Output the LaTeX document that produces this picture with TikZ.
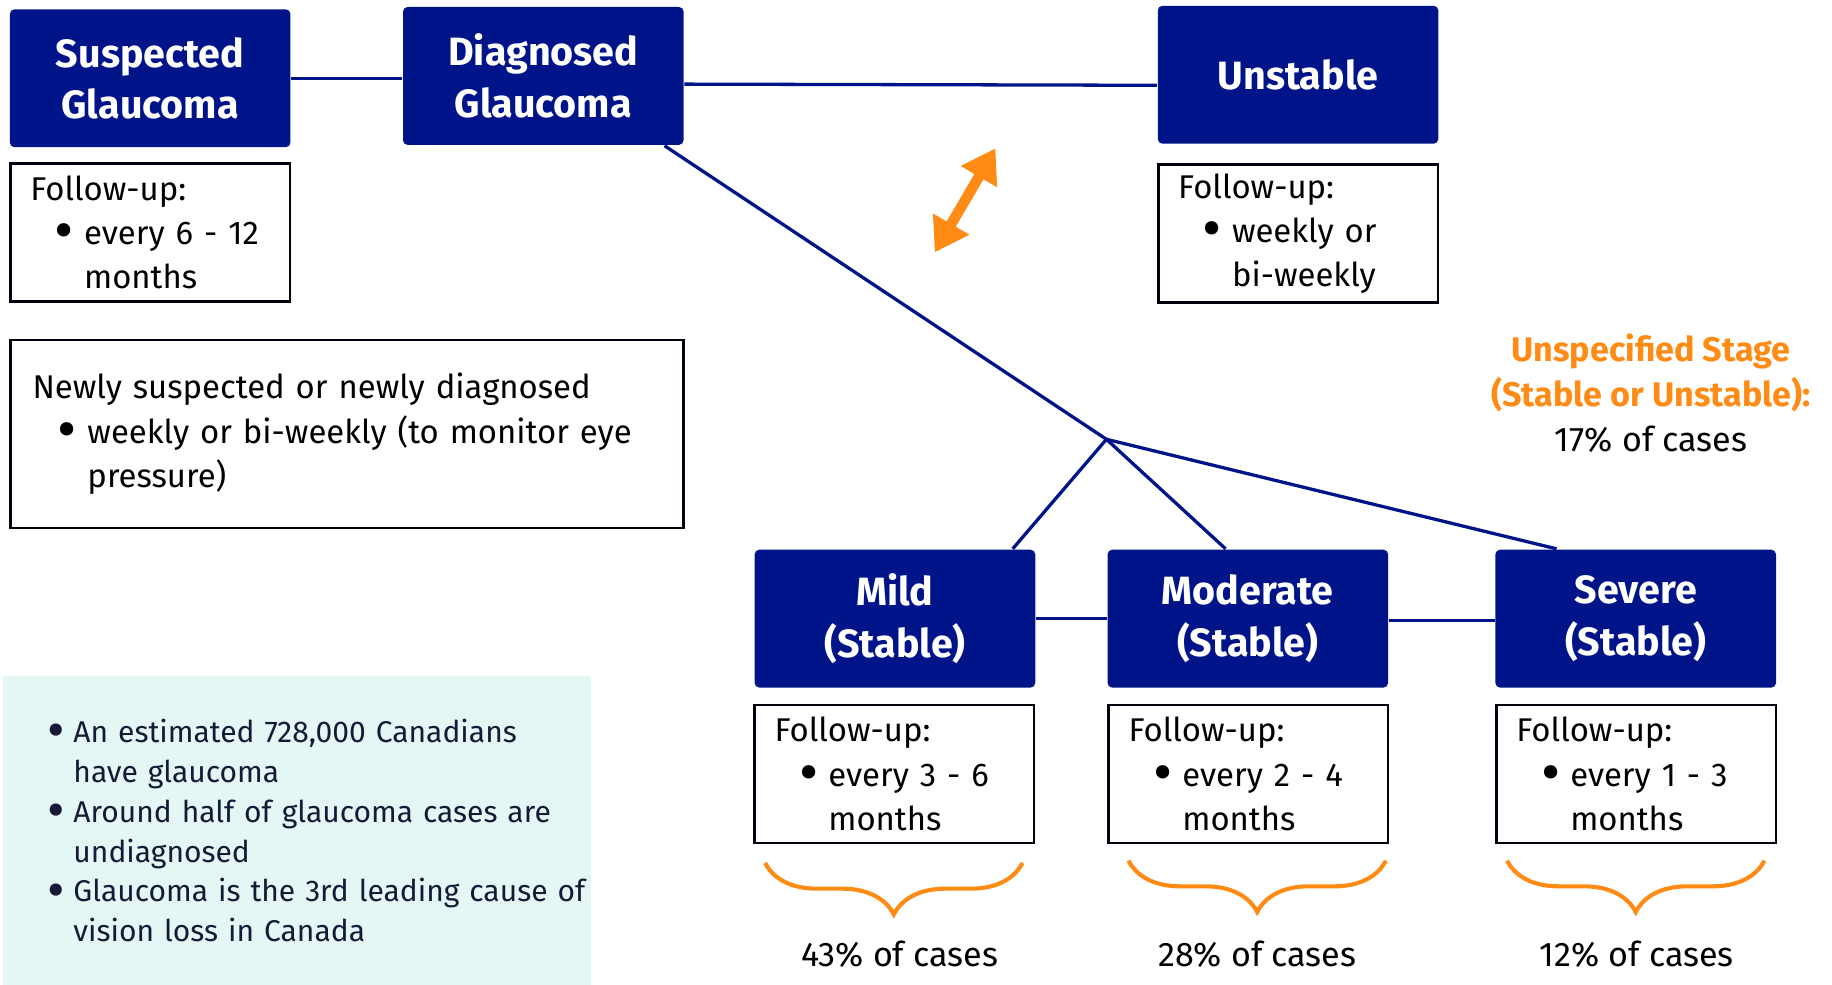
\documentclass[tikz,border=0pt]{standalone}
\usepackage{fontspec}
\setmainfont{Fira Sans}
\usetikzlibrary{calc,arrows.meta,decorations.pathreplacing}

\definecolor{navy}{HTML}{00148A}
\definecolor{tangerine}{HTML}{FF8A14}
\definecolor{mint}{HTML}{E5F7F4}
\definecolor{ink}{HTML}{161A36}

\newcommand{\bigdot}{\raisebox{-1.5pt}{\scalebox{1.8}{\textbullet}}}
\newcommand{\dotitem}[2][0.25cm]{\makebox[#1][l]{\bigdot}\mbox{#2}}
\newcommand{\followtext}[2]{Follow-up:\\\hspace*{0.21cm}\dotitem{#1}\\\hspace*{0.46cm}#2}
\newcommand{\hilite}[1]{{\color{tangerine}\bfseries #1}}

\tikzset{
	stage/.style={fill=navy, rounded corners=0.04cm, minimum width=2.4cm, minimum height=1.18cm, inner sep=0pt, text=white, align=center, font=\fontsize{9.6}{12.5}\selectfont\bfseries},
	followup/.style={draw=black!90!navy, line width=0.6pt, minimum width=2.39cm, minimum height=1.18cm, text width=2.05cm, inner xsep=0.17cm, inner ysep=0pt, align=left, font=\fontsize{8}{10.8}\selectfont},
	facts/.style={fill=mint, minimum width=5.03cm, minimum height=2.64cm, text width=5cm, inner xsep=0.015cm, inner ysep=0pt, align=left, text=ink, font=\fontsize{7.3}{9.7}\selectfont},
	link/.style={draw=navy, line width=0.8pt},
	flip/.style={draw=tangerine, line width=0.09cm, {Triangle[width=0.34cm,length=0.28cm]}-{Triangle[width=0.34cm,length=0.28cm]}},
	curly/.style={draw=tangerine, line width=1pt, decorate, decoration={brace, mirror, amplitude=0.44cm}},
	share/.style={font=\fontsize{8.3}{11}\selectfont}
}

\begin{document}
\begin{tikzpicture}[x=0.01cm, y=-0.01cm]
	%%%%% START %%%%%
	\useasboundingbox (0, 0) rectangle (1568, 843);
	
	\node[stage] (susp) at (128.5, 67) {Suspected\\Glaucoma};
	\node[stage] (diag) at (465, 65) {Diagnosed\\Glaucoma};
	\node[stage] (unst) at (1111, 64) {Unstable};
	
	\node[followup] (fususp) at (128.5, 199) {\followtext{every 6 - 12}{months}};
	\node[followup] (fuunst) at (1111, 200) {\followtext{weekly or}{bi-weekly}};
	
	\node[followup, minimum width=5.76cm, text width=5.38cm, inner xsep=0.19cm, minimum height=1.61cm] (newly) at (297, 371.5) {Newly suspected or newly diagnosed\\\hspace*{0.21cm}\dotitem[0.26cm]{weekly or bi-weekly (to monitor eye}\\\hspace*{0.47cm}pressure)};
	
	\node[facts] (facts) at (254.5, 711) {\hspace*{0.365cm}\dotitem[0.22cm]{An estimated 728,000 Canadians}\\\hspace*{0.585cm}have glaucoma\\\hspace*{0.365cm}\dotitem[0.22cm]{Around half of glaucoma cases are}\\\hspace*{0.585cm}undiagnosed\\\hspace*{0.365cm}\dotitem[0.22cm]{Glaucoma is the 3rd leading cause of}\\\hspace*{0.585cm}vision loss in Canada};
	
	\node[stage] (mild) at (766, 529.5) {Mild\\(Stable)};
	\node[stage] (mod) at (1068, 529.5) {Moderate\\(Stable)};
	\node[stage] (sev) at (1400, 529.5) {Severe\\(Stable)};
	
	\node[followup] (fumild) at (765.5, 662.5) {\followtext{every 3 - 6}{months}};
	\node[followup] (fumod) at (1068.5, 662.5) {\followtext{every 2 - 4}{months}};
	\node[followup] (fusev) at (1400.5, 662.5) {\followtext{every 1 - 3}{months}};
	
	\node[share, align=center] (unspec) at (1413, 336.5) {\hilite{Unspecified Stage}\\\hilite{(Stable or Unstable):}\\17\% of cases};
	
	% links
	\coordinate (split) at (947, 376);
	\draw[link] (susp.east) -- (susp.east -| diag.west);
	\draw[link] ([yshift=-0.07cm]diag.east) -- ([yshift=-0.09cm]unst.west);
	\draw[link] ([xshift=-0.17cm]diag.south east) -- (split);
	\draw[link] (split) -- ([xshift=-0.2cm]mild.north east);
	\draw[link] (split) -- ([xshift=-0.19cm]mod.north);
	\draw[link] (split) -- ([xshift=0.53cm]sev.north west);
	\draw[link] (mild.east) -- (mod.west);
	\draw[link] ([yshift=-0.015cm]mod.east) -- ([yshift=-0.015cm]sev.west);
	
	\coordinate (swapA) at (800, 216);
	\coordinate (swapB) at (852, 127);
	\draw[flip] (swapA) -- (swapB);
	
	% braces and shares
	\draw[curly] ([xshift=0.1cm, yshift=-0.16cm]fumild.south west) -- ([xshift=-0.11cm, yshift=-0.16cm]fumild.south east);
	\draw[curly] ([xshift=0.18cm, yshift=-0.14cm]fumod.south west) -- ([xshift=-0.03cm, yshift=-0.14cm]fumod.south east);
	\draw[curly] ([xshift=0.1cm, yshift=-0.14cm]fusev.south west) -- ([xshift=-0.11cm, yshift=-0.14cm]fusev.south east);
	
	\node[share] (pmild) at (770, 817) {43\% of cases};
	\node[share] (pmod) at (1076, 817) {28\% of cases};
	\node[share] (psev) at (1401, 817) {12\% of cases};
	
	%%%%% END %%%%%
\end{tikzpicture}
\end{document}
